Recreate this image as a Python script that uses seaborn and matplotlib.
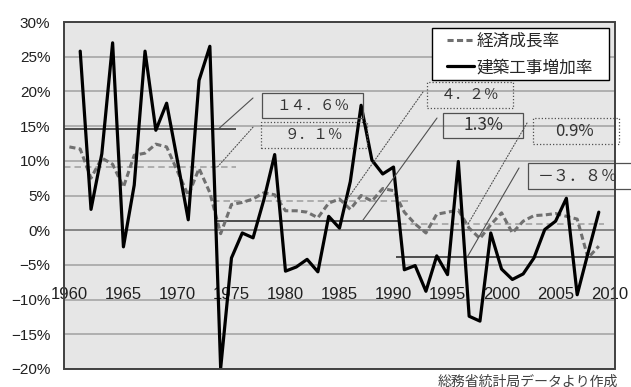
import matplotlib
matplotlib.use("Agg")
import matplotlib.pyplot as plt
import seaborn as sns
import pandas as pd
import numpy as np
from matplotlib.patches import Rectangle
from matplotlib.ticker import FixedLocator

# ---- data -------------------------------------------------------------
years = list(range(1960, 2010))
gdp_growth = [
    12.0, 11.7, 7.5, 10.4, 9.5, 6.2, 10.8, 11.1, 12.4, 12.0,
    8.5, 5.0, 8.9, 5.4, -0.5, 3.7, 4.0, 4.5, 5.4, 5.1,
    2.8, 2.8, 2.6, 1.8, 3.9, 4.5, 3.0, 5.0, 4.2, 6.0,
    5.7, 2.6, 0.9, -0.4, 2.3, 2.6, 2.9, 0.3, -1.2, 0.8,
    2.5, -0.4, 1.3, 2.1, 2.2, 2.4, 2.0, 1.6, -4.0, -2.3,
]
construction_years = list(range(1961, 2010))
construction_growth = [
    25.8, 3.0, 11.0, 27.0, -2.4, 6.5, 25.8, 14.4, 18.3,
    10.0, 1.5, 21.6, 26.5, -19.9, -4.0, -0.4, -1.1, 4.4, 10.9,
    -5.9, -5.3, -4.2, -6.0, 2.0, 0.3, 7.0, 18.0, 10.1, 8.1,
    9.1, -5.7, -5.1, -8.8, -3.7, -6.4, 9.9, -12.4, -13.1, -0.4,
    -5.6, -7.1, -6.3, -4.0, 0.1, 1.3, 4.6, -9.3, -3.3, 2.6,
]

# period averages (high growth / stable growth / after the bubble)
gdp_avg = [9.1, 4.2, 0.9]
construction_avg = [14.6, 1.3, -3.8]
gdp_avg_labels = ["９．１％", "４．２％", "0.9%"]
construction_avg_labels = ["１４．６％", "1.3%", "－３．８％"]

y_ticks = list(range(-20, 31, 5))
y_tick_labels = [f"{v}%".replace("-", "\u2212") for v in y_ticks]
x_ticks = list(range(1960, 2011, 5))
x_tick_labels = [str(v) for v in x_ticks]

legend_labels = ["経済成長率", "建築工事増加率"]
source_note = "総務省統計局データより作成"

# ---- style ------------------------------------------------------------
sns.set_style("white")
plt.rcParams["font.family"] = ["Liberation Sans", "Noto Sans CJK JP", "DejaVu Sans"]
CJK = ["Noto Sans CJK JP", "DejaVu Sans"]

W, H = 631, 387
fig = plt.figure(figsize=(W / 100, H / 100), dpi=100)
ax = fig.add_axes([64 / W, 18 / H, 551 / W, 347 / H])
ax.set_facecolor("#e6e6e6")
ax.set_xlim(1959.5, 2010.5)
ax.set_ylim(-20, 30)

# horizontal grid
ax.set_yticks(y_ticks)
ax.set_yticklabels(y_tick_labels)
ax.yaxis.grid(True, color="#a6a6a6", lw=1.2)
ax.xaxis.grid(False)
ax.set_axisbelow(True)

# frame around the plot area; the category axis sits on the 0% line
for side in ("left", "right", "top"):
    ax.spines[side].set_visible(False)
ax.spines["bottom"].set_position(("data", 0))
ax.spines["bottom"].set_color("#7f7f7f")
ax.spines["bottom"].set_linewidth(1.2)
ax.add_patch(Rectangle((0, 0), 1, 1, transform=ax.transAxes, fill=False,
                       ec="#404040", lw=1.4, zorder=6, clip_on=False))

ax.set_xticks(x_ticks)
ax.set_xticklabels(x_tick_labels)
ax.xaxis.set_minor_locator(FixedLocator(np.arange(1960.5, 2010, 1.0)))
ax.tick_params(axis="x", which="major", length=0, pad=41, labelsize=12,
               labelcolor="#202020")
ax.tick_params(axis="x", which="minor", direction="out", length=3.5,
               width=1.0, color="#7f7f7f")
ax.tick_params(axis="y", which="major", direction="out", length=4.3,
               width=1.0, color="#8a8a8a", pad=5.5, labelsize=11,
               labelcolor="#202020")

# ---- series -----------------------------------------------------------
df_gdp = pd.DataFrame({"year": years, "rate": gdp_growth})
df_con = pd.DataFrame({"year": construction_years, "rate": construction_growth})

sns.lineplot(data=df_gdp, x="year", y="rate", color="#707070", lw=2.2,
             ax=ax, label=legend_labels[0], zorder=4)
gdp_line = ax.lines[-1]
gdp_line.set_dashes([2.0, 1.1])
sns.lineplot(data=df_con, x="year", y="rate", color="black", lw=2.3,
             ax=ax, label=legend_labels[1], zorder=4)
con_line = ax.lines[-1]
ax.set_xlabel("")
ax.set_ylabel("")

# ---- period averages --------------------------------------------------
gdp_spans = [(1959.5, 1975.4), (1973.3, 1991.3), (1990.6, 2009.45)]
con_spans = [(1959.5, 1975.4), (1973.5, 1990.6), (1990.2, 2010.5)]
for v, (a, b) in zip(gdp_avg, gdp_spans):
    ax.hlines(v, a, b, colors="#a8a8a8", lw=1.3,
              linestyles=[(0, (3.6, 2.2))], zorder=3)
for v, (a, b) in zip(construction_avg, con_spans):
    ax.hlines(v, a, b, colors="#404040", lw=1.3, zorder=3)

# callout boxes with leader lines
dotted = (0, (1.0, 1.6))
callouts = [
    # value, text, dotted?, leader start year, leader end (axes), box (x0, x1, y0, y1 axes), size
    (construction_avg[0], construction_avg_labels[0], False, 1973.8,
     (0.343, 0.781), (0.3593, 0.5426, 0.7233, 0.7954), 10.5),
    (gdp_avg[0], gdp_avg_labels[0], True, 1973.7,
     (0.343, 0.697), (0.3575, 0.5499, 0.6369, 0.7118), 10.5),
    (gdp_avg[1], gdp_avg_labels[1], True, 1985.6,
     (0.6515, 0.7983), (0.6588, 0.8149, 0.7522, 0.8271), 10.5),
    (construction_avg[1], construction_avg_labels[1], False, 1987.1,
     (0.677, 0.7233), (0.6878, 0.8330, 0.6657, 0.7378), 12.5),
    (gdp_avg[2], gdp_avg_labels[2], True, 1996.9,
     (0.8403, 0.7089), (0.8512, 1.0073, 0.6484, 0.7233), 12),
    (construction_avg[2], construction_avg_labels[2], False, 1996.85,
     (0.8258, 0.5793), (0.8421, 1.0581, 0.5187, 0.5937), 11.5),
]
for v, txt, is_dot, x_start, end, box, size in callouts:
    ls = dotted if is_dot else "-"
    ax.annotate("", xy=(x_start, v), xycoords="data", xytext=end,
                textcoords="axes fraction",
                arrowprops=dict(arrowstyle="-", color="#505050", lw=0.8,
                                linestyle=ls, shrinkA=0, shrinkB=0),
                zorder=5)
    x0, x1, y0, y1 = box
    ax.add_patch(Rectangle((x0, y0), x1 - x0, y1 - y0, transform=ax.transAxes,
                           fill=False, ec="#505050", lw=0.9, linestyle=ls,
                           zorder=5, clip_on=False))
    cx = (x0 + min(x1, 1.0 + (x1 - 1.0) * 0.4)) / 2 if x1 > 1 else (x0 + x1) / 2
    ax.text(cx, (y0 + y1) / 2, txt, transform=ax.transAxes, ha="center",
            va="center", fontsize=size, color="#333333", family=CJK,
            zorder=6, clip_on=False)

# ---- legend -----------------------------------------------------------
lx0, lx1, ly0, ly1 = 432, 609, 28, 80
ax.add_patch(Rectangle(((lx0 - 64) / 551, (369 - ly1) / 347),
                       (lx1 - lx0) / 551, (ly1 - ly0) / 347,
                       transform=ax.transAxes, fc="white", ec="black",
                       lw=1.0, zorder=7, clip_on=False))
leg = ax.legend([gdp_line, con_line], legend_labels, loc="center left",
                bbox_to_anchor=(447 / W, 1 - 54.5 / H),
                bbox_transform=fig.transFigure, frameon=False, borderpad=0,
                borderaxespad=0, handlelength=1.6, handletextpad=0.15,
                labelspacing=0.55, prop={"family": CJK, "size": 12})
leg.set_zorder(8)

fig.text(618 / W, 1 - 381.5 / H, source_note, ha="right", va="center",
         fontsize=10, color="#404040", family=CJK)

fig.savefig("out.png", dpi=100)
